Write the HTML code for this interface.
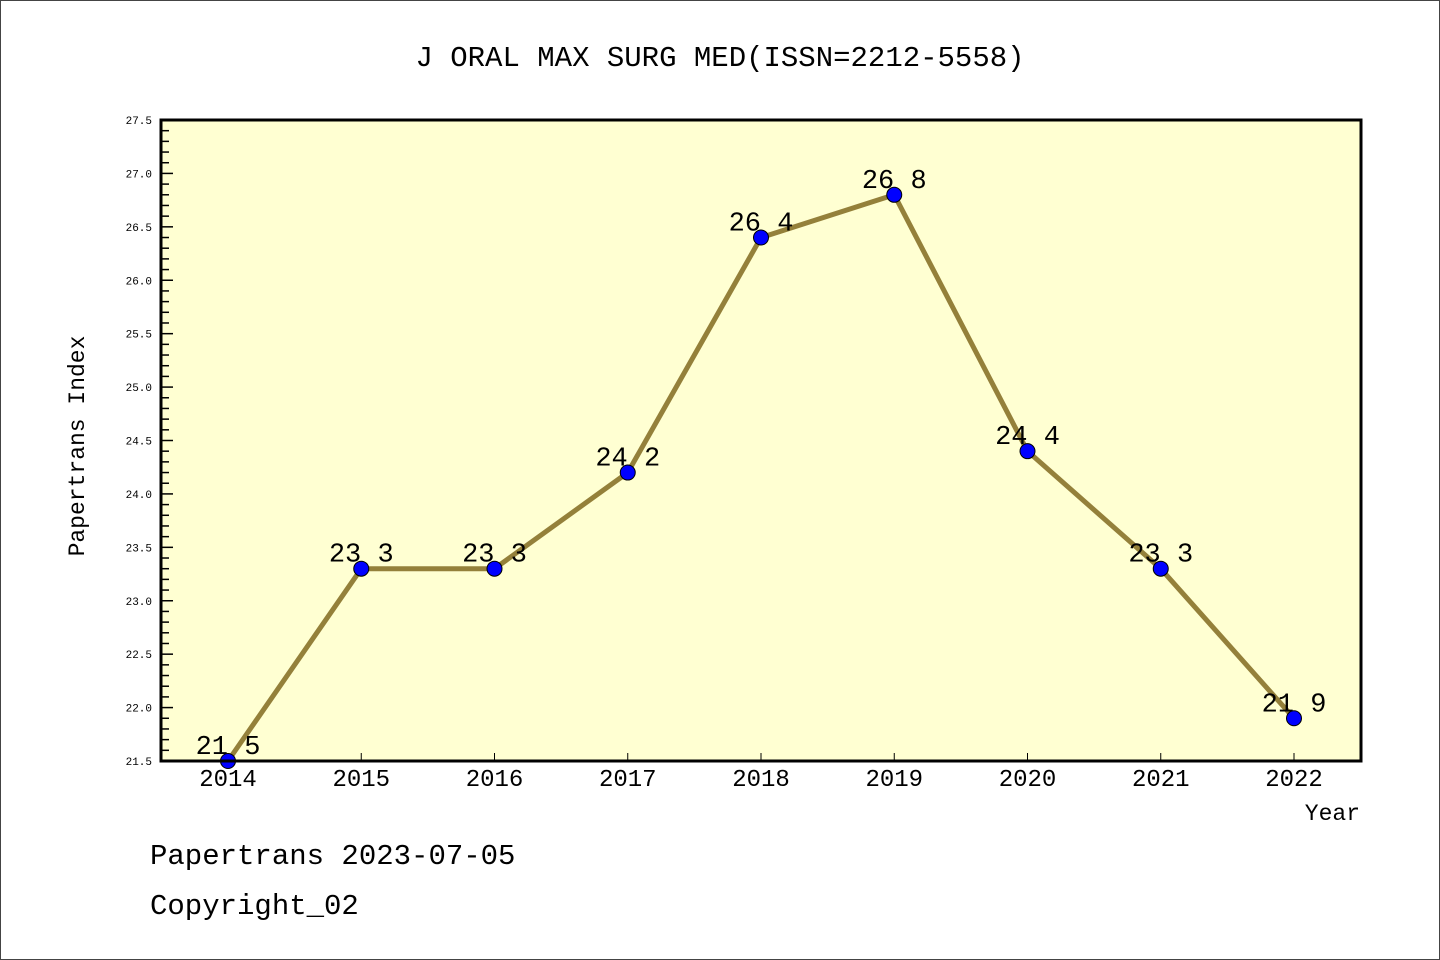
<!DOCTYPE html>
<html><head><meta charset="utf-8"><style>
html,body{margin:0;padding:0;background:#fff}
svg{display:block}
text{font-family:"Liberation Mono","DejaVu Sans Mono",monospace}
</style></head><body>
<svg id="c" width="1440" height="960" xmlns="http://www.w3.org/2000/svg">
<rect x="0.5" y="0.5" width="1439" height="959" fill="#fff" stroke="#444"/>
<text x="720" y="66" font-size="29" text-anchor="middle">J ORAL MAX SURG MED(ISSN=2212-5558)</text>
<rect x="161" y="120" width="1200" height="641" fill="#ffffd2"/>
<g id="yt"></g>
<g id="xt"></g>
<g id="series"></g>
<rect x="161" y="120" width="1200" height="641" fill="none" stroke="#000" stroke-width="3"/>
<text transform="translate(84,446) rotate(-90)" font-size="23" text-anchor="middle">Papertrans Index</text>
<text x="1360" y="820" font-size="23" text-anchor="end">Year</text>
<text x="150" y="864" font-size="29">Papertrans 2023-07-05</text>
<text x="150" y="914" font-size="29">Copyright_02</text>
</svg>
<script>
const years=[2014,2015,2016,2017,2018,2019,2020,2021,2022];
const values=[21.5,23.3,23.3,24.2,26.4,26.8,24.4,23.3,21.9];
const yTicks=["21.5","22.0","22.5","23.0","23.5","24.0","24.5","25.0","25.5","26.0","26.5","27.0","27.5"];
const NS="http://www.w3.org/2000/svg";
const yMin=21.5,yMax=27.5,plotTop=120,plotBot=761;
function ys(v){return plotBot-(v-yMin)/(yMax-yMin)*(plotBot-plotTop);}
function xs(yr){return 228+(yr-years[0])*133.25;}
function mk(tag,a,p){const e=document.createElementNS(NS,tag);for(const k in a)e.setAttribute(k,a[k]);p.appendChild(e);return e;}
const yt=document.getElementById('yt'),xt=document.getElementById('xt'),sg=document.getElementById('series');
for(let i=0;i<=60;i++){const v=yMin+i*0.1;const y=ys(v);const major=i%5===0;
 const l=mk('line',{x1:161,x2:161+(major?12:8),y1:y,y2:y,stroke:'#000','stroke-width':1.5},yt);
 
 }
yTicks.forEach(t=>{const e=mk('text',{x:152,y:ys(+t)+4,'font-size':11,'text-anchor':'end'},yt);e.textContent=t;
 
 });
years.forEach(yr=>{const x=xs(yr);
 const l=mk('line',{x1:x,x2:x,y1:plotBot,y2:plotBot-8,stroke:'#000','stroke-width':1},xt);
 
 
 const t=mk('text',{x:x,y:786,'font-size':24,'text-anchor':'middle'},xt);t.textContent=yr;
 
 });
const pl=mk('polyline',{points:years.map((yr,i)=>xs(yr)+','+ys(values[i])).join(' '),fill:'none',stroke:'#94803a','stroke-width':5,'stroke-linejoin':'round'},sg);


years.forEach((yr,i)=>{const x=xs(yr),y=ys(values[i]);
 const c=mk('circle',{cx:x,cy:y,r:7.5,fill:'#0000ff',stroke:'#000','stroke-width':1},sg);
 
 
 const t=mk('text',{x:x,y:y-7,'font-size':27,'text-anchor':'middle'},sg);t.textContent=values[i].toFixed(1).replace('.',' ');
 
 });
</script>
</body></html>
